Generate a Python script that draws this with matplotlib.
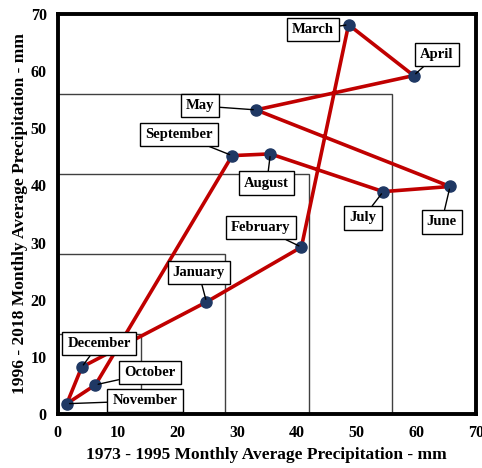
import matplotlib.pyplot as plt
from matplotlib.patches import Rectangle

plt.rcParams["font.family"] = ["Liberation Serif", "DejaVu Serif"]
plt.rcParams["font.weight"] = "bold"

# Monthly average precipitation (mm)
months = ["January", "February", "March", "April", "May", "June",
          "July", "August", "September", "October", "November", "December"]
p_1973_1995 = [24.9, 40.8, 48.7, 59.6, 33.2, 65.7, 54.5, 35.6, 29.2, 6.3, 1.5, 4.0]
p_1996_2018 = [19.6, 29.2, 68.1, 59.2, 53.2, 39.8, 38.9, 45.5, 45.2, 5.1, 1.8, 8.2]

# callout box centres (data units)
label_x = [23.6, 34.0, 42.7, 63.5, 23.8, 64.3, 51.1, 35.0, 20.3, 15.4, 14.6, 6.9]
label_y = [24.7, 32.6, 67.2, 62.9, 53.9, 33.6, 34.3, 40.4, 48.9, 7.2, 2.3, 12.3]

# nested reference squares
box_sizes = [14, 28, 42, 56]

fig = plt.figure(figsize=(4.82, 4.68), dpi=100)
ax = fig.add_axes([0.120, 0.1154, 0.867, 0.855])

for s in box_sizes:
    ax.add_patch(Rectangle((0, 0), s, s, fill=False, edgecolor="#404040",
                           lw=1.0, zorder=1))

xs = p_1973_1995 + p_1973_1995[:1]
ys = p_1996_2018 + p_1996_2018[:1]
ax.plot(xs, ys, color="#C00000", lw=2.6, zorder=2)
ax.plot(p_1973_1995, p_1996_2018, "o", color="#1F3864", markersize=8, zorder=3)

for m, x, y, lx, ly in zip(months, p_1973_1995, p_1996_2018, label_x, label_y):
    ax.annotate(m, xy=(x, y), xytext=(lx, ly), ha="center", va="center",
                fontsize=10.5, fontweight="bold", zorder=4,
                bbox=dict(boxstyle="square,pad=0.35", fc="white", ec="black", lw=1.0),
                arrowprops=dict(arrowstyle="-", color="black", lw=1.0,
                                shrinkA=0, shrinkB=2))

ax.set_xlim(0, 70)
ax.set_ylim(0, 70)
ax.set_xticks(range(0, 71, 10))
ax.set_yticks(range(0, 71, 10))
ax.tick_params(length=0, labelsize=11.5, pad=8)
for lab in ax.get_xticklabels() + ax.get_yticklabels():
    lab.set_fontweight("bold")
for sp in ax.spines.values():
    sp.set_linewidth(2.8)

ax.set_xlabel("1973 - 1995 Monthly Average Precipitation - mm",
              fontsize=12.5, fontweight="bold", labelpad=4)
ax.set_ylabel("1996 - 2018 Monthly Average Precipitation - mm",
              fontsize=12.5, fontweight="bold", labelpad=2)

fig.savefig("out.png", dpi=100)
